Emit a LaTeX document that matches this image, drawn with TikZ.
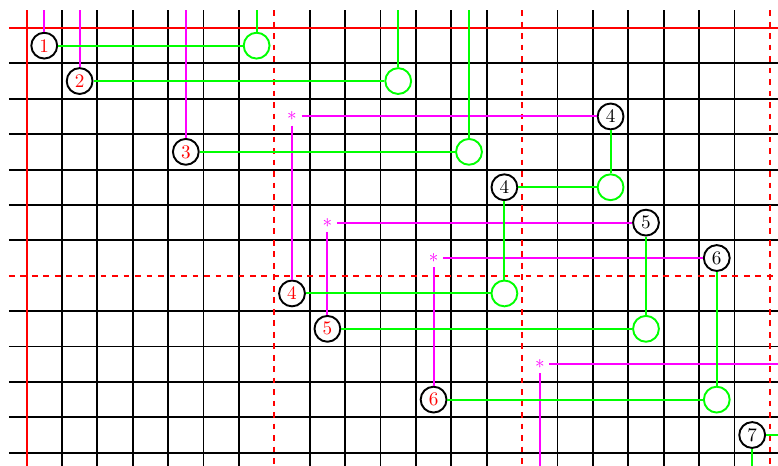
\documentclass[tikz,border=0pt]{standalone}
\definecolor{mag}{RGB}{255,0,255}
\definecolor{grn}{RGB}{0,255,0}
\definecolor{rd}{RGB}{255,0,0}
\begin{document}
\begin{tikzpicture}[x=.65cm,y=.65cm,line width=1pt,
  rn/.style={circle,draw=black,text=rd,inner sep=1pt,minimum size=13.5pt},
  bn/.style={circle,draw=black,inner sep=1pt,minimum size=13.5pt},
  gn/.style={circle,draw=grn,inner sep=0pt,minimum size=13.5pt},
  sn/.style={text=mag,inner sep=2pt},
  gl/.style={grn},ml/.style={mag}]
\useasboundingbox (-.75,.79) rectangle (21.23,-12.37);
\clip (-.75,.79) rectangle (21.23,-12.37);
% grid
\foreach \x in {1,2,3,4,5,6,8,9,10,11,12,13,15,16,17,18,19,20}{\draw (\x,.5)--(\x,-13);}
\foreach \y in {1,2,3,4,5,6,8,9,10,11,12,13}{\draw (-.5,-\y)--(22,-\y);}
\draw[rd] (0,.5)--(0,-13) (-.5,0)--(22,0);
\draw[rd,dashed] (7,.5)--(7,-13) (14,.5)--(14,-13) (21,.5)--(21,-13) (-.5,-7)--(22,-7);
\coordinate (top) at (0,.5);\coordinate (rgt) at (22,0);\coordinate (bot) at (0,-13);
% nodes
\node[rn] (r1) at (.5,-.5) {1};\node[rn] (r2) at (1.5,-1.5) {2};
\node[rn] (r3) at (4.5,-3.5) {3};\node[rn] (r4) at (7.5,-7.5) {4};
\node[rn] (r5) at (8.5,-8.5) {5};\node[rn] (r6) at (11.5,-10.5) {6};
\node[bn] (b4) at (16.5,-2.5) {4};\node[bn] (c4) at (13.5,-4.5) {4};
\node[bn] (b5) at (17.5,-5.5) {5};\node[bn] (b6) at (19.5,-6.5) {6};
\node[bn] (b7) at (20.5,-11.5) {7};
\node[gn] (g1) at (6.5,-.5) {};\node[gn] (g2) at (10.5,-1.5) {};
\node[gn] (g3) at (12.5,-3.5) {};\node[gn] (g4) at (13.5,-7.5) {};
\node[gn] (h4) at (16.5,-4.5) {};\node[gn] (g5) at (17.5,-8.5) {};
\node[gn] (g6) at (19.5,-10.5) {};
\node[sn] (s4) at (7.5,-2.5) {$*$};\node[sn] (s5) at (8.5,-5.5) {$*$};
\node[sn] (s6) at (11.5,-6.5) {$*$};\node[sn] (s7) at (14.5,-9.5) {$*$};
% magenta
\draw[ml] (r1|-top)--(r1) (r2|-top)--(r2) (r3|-top)--(r3);
\draw[ml] (s4)--(b4) (s4)--(r4) (s5)--(b5) (s5)--(r5) (s6)--(b6) (s6)--(r6);
\draw[ml] (s7)--(s7-|rgt) (s7)--(s7|-bot);
% green
\draw[gl] (r1)--(g1)--(g1|-top) (r2)--(g2)--(g2|-top) (r3)--(g3)--(g3|-top);
\draw[gl] (r4)--(g4)--(c4)--(h4)--(b4);
\draw[gl] (r5)--(g5)--(b5) (r6)--(g6)--(b6);
\draw[gl] (b7)--(b7-|rgt) (b7)--(b7|-bot);
\end{tikzpicture}
\end{document}
